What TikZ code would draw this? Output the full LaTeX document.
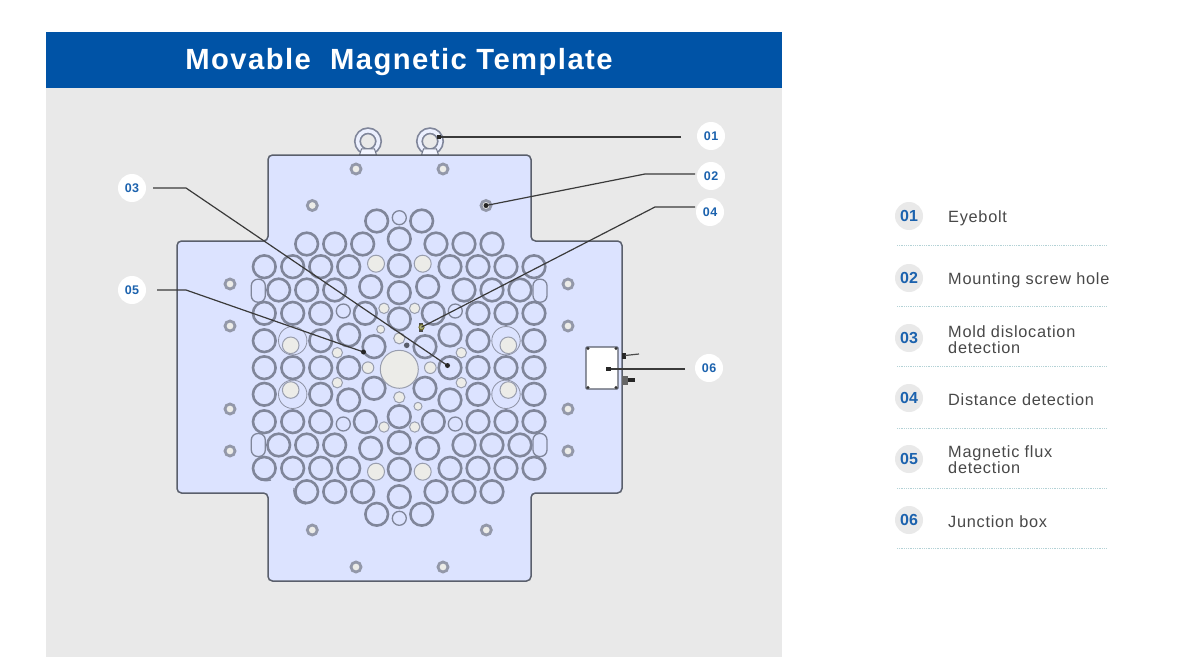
\documentclass[tikz,border=0pt]{standalone}
\usepackage{fontspec}
\setmainfont{Liberation Sans}
\newfontfamily\spaced[LetterSpace=4.0]{Liberation Sans}
\newfontfamily\spacedl[LetterSpace=4.5]{Liberation Sans}
\newfontfamily\spacedb[LetterSpace=5.0]{Liberation Sans}
\definecolor{panel}{HTML}{E9E9E9}
\definecolor{headblue}{HTML}{0053A6}
\definecolor{plate}{HTML}{DCE3FF}
\definecolor{ringc}{HTML}{80869A}
\definecolor{holefill}{HTML}{ECECE8}
\definecolor{edge}{HTML}{5A5F6C}
\definecolor{numblue}{HTML}{1B62AE}
\definecolor{leg}{HTML}{484848}
\definecolor{dotc}{HTML}{B4D2D6}
\definecolor{leader}{HTML}{3A3A3A}
\tikzset{
  ringh/.style={draw=ringc,line width=2.6pt},
  thinring/.style={draw=ringc,line width=1.3pt},
  fillhole/.style={draw=ringc!80,fill=holefill,line width=1pt},
  bigthin/.style={draw=ringc!90,line width=.8pt},
  badge/.style={circle,fill=white,minimum size=28pt,inner sep=0pt,text=numblue,font=\spaced\bfseries\fontsize{12.5}{12.5}\selectfont},
  legbadge/.style={circle,fill=panel,minimum size=28pt,inner sep=0pt,text=numblue,font=\bfseries\fontsize{16}{16}\selectfont},
  legtext/.style={anchor=west,inner sep=0pt,text=leg,align=left,font=\spacedl\fontsize{16.3}{16}\selectfont},
  leaderline/.style={draw=leader,line width=1.2pt},
  tipdot/.style={fill=black!85,minimum size=4.5pt,inner sep=0pt},
  rounddot/.style={circle,fill=black!85,minimum size=5pt,inner sep=0pt},
  dotline/.style={draw=dotc,line width=.9pt,dash pattern=on .9pt off .9pt},
  screwhole/.style={draw=ringc!85,fill=holefill,line width=2.8pt},
}
\begin{document}
\begin{tikzpicture}[x=1pt,y=-1pt]
\useasboundingbox (0,0) rectangle (1183,666);
\fill[white] (0,0) rectangle (1183,666);
\fill[panel] (46,88) rectangle (782,657);
\node[fill=headblue,minimum width=736pt,minimum height=56pt,inner sep=0pt,anchor=north west] (head) at (46,32) {};
\node[text=white,font=\spacedb\bfseries\fontsize{29.2}{30}\selectfont,inner sep=0pt] (title) at (399,62.5) {Movable\ \ Magnetic Template};
% eyebolts
\foreach \x in {368,430}{
  \draw[draw=ringc,line width=7pt] (\x,141.3) circle (10.5);
  \draw[draw=plate!55!white,line width=3.6pt] (\x,141.3) circle (10.5);
  \draw[draw=ringc!90!black,fill=plate!35!white,line width=1pt] (\x-8.5,155) -- (\x-6.5,149) -- (\x+6.5,149) -- (\x+8.5,155) -- cycle;
}
% plate
\draw[fill=plate,draw=edge,line width=1.5pt,rounded corners=4.5pt]
 (268,155) -- (531,155) -- (531,241) -- (622,241) -- (622,493) -- (531,493) -- (531,581)
 -- (268,581) -- (268,493) -- (177,493) -- (177,241) -- (268,241) -- cycle;
% big thin circles
\foreach \x/\y in {292.7/340.7,506/340.7,292.7/394.3,506/394.3}
  \draw[bigthin] (\x,\y) circle (14.2);
% rings
\foreach \x/\y in {
 376.7/221,421.7/221,
 306.7/244,334.7/244,362.7/244,399.3/239,436/244,464/244,492/244,
 264.3/266.7,292.7/266.7,320.7/266.7,348.7/266.7,399.3/265.7,450/266.7,478/266.7,506/266.7,534/266.7,
 278.7/290,306.7/290,334.7/290,370.7/286.7,399.3/292.7,427.7/286.7,464/290,492/290,520/290,
 264.3/313.3,292.7/313.3,320.7/313.3,365.3/313.3,399.3/319,433.3/313.3,478/313.3,506/313.3,534/313.3,
 264.3/340.7,320.7/340.7,348.7/335,374/346.7,425/346.7,450/335,478/340.7,534/340.7,
 264.3/367.7,292.7/367.7,320.7/367.7,348.7/367.7,450/367.7,478/367.7,506/367.7,534/367.7,
 264.3/394.3,320.7/394.3,348.7/400,374/388.3,425/388.3,450/400,478/394.3,534/394.3,
 264.3/421.7,292.7/421.7,320.7/421.7,365.3/421.7,399.3/416.7,433.3/421.7,478/421.7,506/421.7,534/421.7,
 278.7/445,306.7/445,334.7/445,370.7/448.3,399.3/442.7,427.7/448.3,464/445,492/445,520/445,
 264.3/468.3,292.7/468.3,320.7/468.3,348.7/468.3,399.3/469.3,450/468.3,478/468.3,506/468.3,534/468.3,
 306.7/491.7,334.7/491.7,362.7/491.7,399.3/496.7,436/491.7,464/491.7,492/491.7,
 376.7/514.3,421.7/514.3}
  \draw[ringh] (\x,\y) circle (11.3);
% extra offset arcs at the lower left
\draw[thinring] (254,474) .. controls (257,480) and (263,482) .. (271,480);
\draw[thinring] (294,488) .. controls (293,496) and (297,503) .. (306,504);
% slots
\foreach \x/\y in {258.3/290.7,540/290.7,258.3/445,540/445}
  \draw[thinring,rounded corners=6.5pt] (\x-7,\y-11.5) rectangle (\x+7,\y+11.5);
% small thin rings
\foreach \x/\y in {399.3/217.7,343.3/311,455.3/311,343.3/424,455.3/424,399.3/518.3}
  \draw[thinring] (\x,\y) circle (7);
% light holes
\foreach \x/\y/\r in {
 376/263.7/8.5,422.7/263.7/8.5,376/471.7/8.5,422.7/471.7/8.5,
 290.7/345.3/8.3,508.3/345.3/8.3,290.7/390/8.3,508.3/390/8.3,
 384/308.3/5.2,414.7/308.3/5.2,384/427/5.2,414.7/427/5.2,
 337.3/352.7/5.2,461.3/352.7/5.2,337.3/382.7/5.2,461.3/382.7/5.2,
 368/367.7/5.8,430.3/367.7/5.8,399.3/338.3/5.6,399.3/397.3/5.6,
 380.7/329.3/4,418/406.3/4,399.3/369.3/19}
  \draw[fillhole] (\x,\y) circle (\r);
\fill[ringc!70!black] (406.7,345.3) circle (2.8);
% screw holes
\foreach \x/\y in {356/169,443/169,312.3/205.5,486/205.5,
 230/284,230/326,230/409,230/451,568/284,568/326,568/409,568/451,
 312.3/530,486.3/530,356/567,443/567}
  \draw[screwhole] (\x,\y) circle (5);
% detector at 04
\fill[black!70] (418.5,322.5) rectangle (423,332);
\draw[draw=olive!70!black,fill=plate!50!olive,line width=.8pt] (421.5,327.2) circle (2.6);
% junction box
\node[draw=edge,fill=white,line width=1.2pt,rounded corners=1pt,minimum width=32pt,minimum height=42pt,inner sep=0pt] (jbox) at (602,368) {};
\foreach \x/\y in {588/348.5,616/348.5,588/387.5,616/387.5}
  \fill[black!80] (\x,\y) circle (1.6);
\fill[black!85] (622,353) rectangle (626,359);
\draw[draw=black!70,line width=1.2pt] (625,355.5) -- (639,354);
\fill[black!60] (622,376) rectangle (628,385);
\fill[black!85] (628,378) rectangle (635,382);
% leader endpoints
\coordinate (e1) at (439,137);
\coordinate (e2) at (486,205.5);
\coordinate (e3) at (447.5,365.5);
\coordinate (e4) at (421.5,327.2);
\coordinate (e5) at (363.5,352);
\coordinate (e6) at (608.5,369);
\coordinate (b2) at (645,174);
\coordinate (b3) at (186,188);
\coordinate (b4) at (655,207);
\coordinate (b5) at (186,290);
\coordinate (s1) at (681,137);
\coordinate (s2) at (695,174);
\coordinate (s3) at (153,188);
\coordinate (s4) at (695,207);
\coordinate (s5) at (157,290);
\coordinate (s6) at (685,369);
\draw[leaderline] (s1) -- (e1);
\draw[leaderline] (s2) -- (b2) -- (e2);
\draw[leaderline] (s3) -- (b3) -- (e3);
\draw[leaderline] (s4) -- (b4) -- (e4);
\draw[leaderline] (s5) -- (b5) -- (e5);
\draw[leaderline] (s6) -- (e6);
\node[tipdot] (tip1) at (e1) {};
\node[rounddot] (tip2) at (e2) {};
\node[rounddot] (tip3) at (e3) {};
\node[rounddot] (tip5) at (e5) {};
\node[tipdot] (tip6) at (e6) {};
% badges
\node[badge] (n1) at (711,136) {01};
\node[badge] (n2) at (711,176) {02};
\node[badge] (n3) at (132,188) {03};
\node[badge] (n4) at (710,212) {04};
\node[badge] (n5) at (132,290) {05};
\node[badge] (n6) at (709,368) {06};
% legend
\node[legbadge] (l1) at (909,216) {01};
\node[legbadge] (l2) at (909,278) {02};
\node[legbadge] (l3) at (909,338) {03};
\node[legbadge] (l4) at (909,398) {04};
\node[legbadge] (l5) at (909,459) {05};
\node[legbadge] (l6) at (909,520) {06};
\node[legtext] (t1) at (948,218) {Eyebolt};
\node[legtext] (t2) at (948,280) {Mounting screw hole};
\node[legtext] (t3) at (948,340) {Mold dislocation\\detection};
\node[legtext] (t4) at (948,400) {Distance detection};
\node[legtext] (t5) at (948,460) {Magnetic flux\\detection};
\node[legtext] (t6) at (948,522) {Junction box};
\foreach \y in {245,306,366,428,488,548}
  \draw[dotline] (897,\y) -- (1106,\y);
\end{tikzpicture}
\end{document}
